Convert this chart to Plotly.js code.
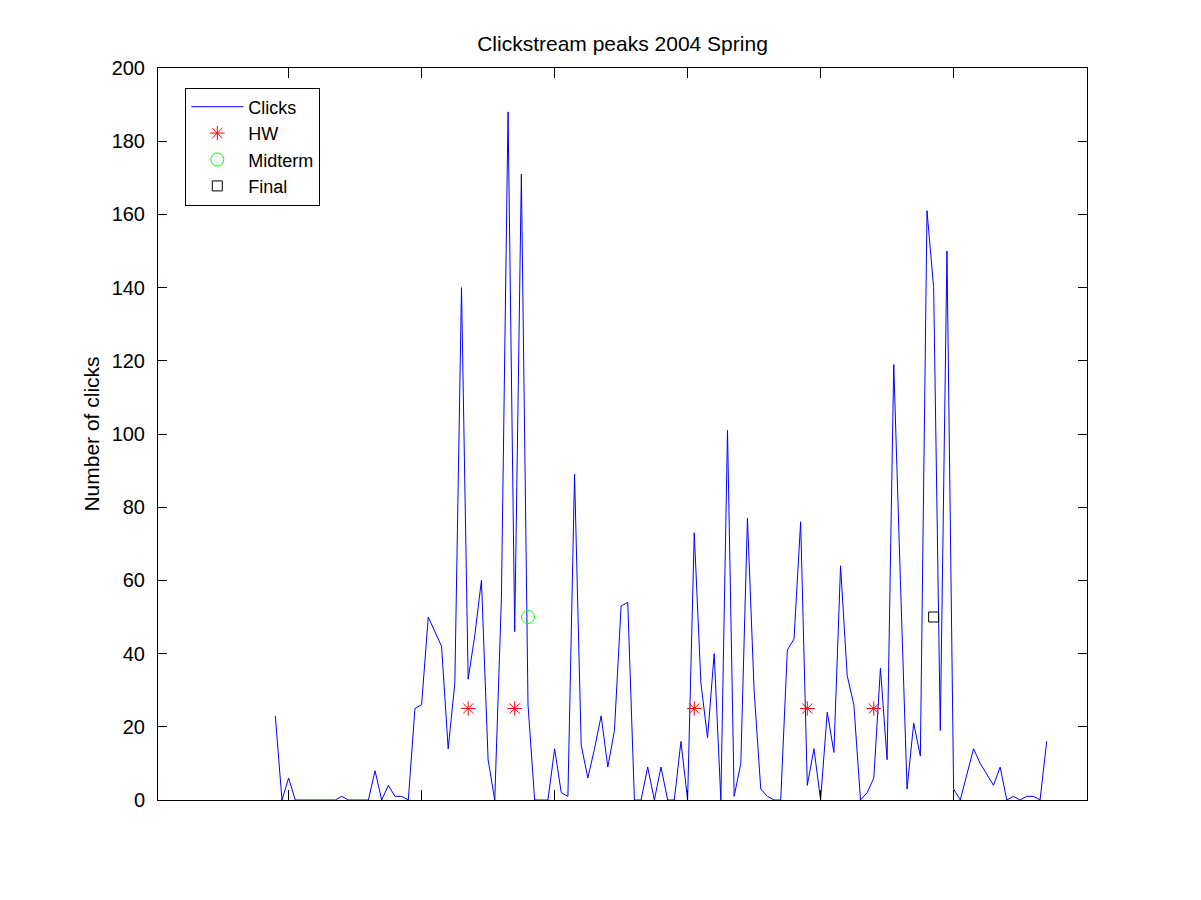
<!DOCTYPE html>
<html>
<head>
<meta charset="utf-8">
<script src="https://cdn.plot.ly/plotly-3.0.1.min.js"></script>
<style>
  html, body { margin: 0; padding: 0; background: #ffffff; }
  #chart { width: 1201px; height: 900px; }
</style>
</head>
<body>
<div id="chart"></div>
<script>
// ---- data ----
const firstDay = 18;
const clicks = [
  23, 0, 6, 0, 0, 0, 0, 0, 0, 0,
  1, 0, 0, 0, 0, 8, 0, 4, 1, 1,
  0, 25, 26, 50, 46, 42, 14, 32, 140, 33,
  45, 60, 11, 0, 55, 188, 46, 171, 26, 0,
  0, 0, 14, 2, 1, 89, 15, 6, 14, 23,
  9, 19, 53, 54, 0, 0, 9, 0, 9, 0,
  0, 16, 0, 73, 32, 17, 40, 0, 101, 1,
  10, 77, 30, 3, 1, 0, 0, 41, 44, 76,
  4, 14, 0, 24, 13, 64, 34, 26, 0, 2,
  6, 36, 11, 119, 60, 3, 21, 12, 161, 140,
  19, 150, 3, 0, 7, 14, 10, 7, 4, 9,
  0, 1, 0, 1, 1, 0, 16
];
const days = clicks.map((_, i) => firstDay + i);

const hwDays = [47, 54, 81, 98, 108];
const hwLevel = [25, 25, 25, 25, 25];
const midtermDays = [56];
const midtermLevel = [50];
const finalDays = [117];
const finalLevel = [50];

const xTicks = [20, 40, 60, 80, 100, 120, 140];
const yTicks = [0, 20, 40, 60, 80, 100, 120, 140, 160, 180, 200];

const titleText = 'Clickstream peaks 2004 Spring';
const yTitleText = 'Number of clicks';

// ---- chart ----
const FONT = 'Liberation Sans, Arial, Helvetica, sans-serif';

const traces = [
  {
    x: days, y: clicks, type: 'scatter', mode: 'lines', name: 'Clicks',
    line: { color: '#0000ff', width: 1 }
  },
  {
    x: hwDays, y: hwLevel, type: 'scatter', mode: 'markers', name: 'HW',
    marker: { symbol: 'asterisk-open', size: 12, color: '#ff0000', line: { color: '#ff0000', width: 1 } }
  },
  {
    x: midtermDays, y: midtermLevel, type: 'scatter', mode: 'markers', name: 'Midterm',
    marker: { symbol: 'circle-open', size: 13, color: '#00ff00', line: { color: '#00ff00', width: 1 } }
  },
  {
    x: finalDays, y: finalLevel, type: 'scatter', mode: 'markers', name: 'Final',
    marker: { symbol: 'square-open', size: 10, color: '#000000', line: { color: '#000000', width: 1 } }
  }
];

const layout = {
  width: 1201, height: 900,
  paper_bgcolor: '#ffffff', plot_bgcolor: '#ffffff',
  margin: { l: 158, r: 114, t: 68, b: 100, pad: 0 },
  font: { family: FONT, size: 20, color: '#000000' },
  title: {
    text: titleText,
    font: { family: FONT, size: 21, color: '#000000' },
    x: 0.5, xref: 'paper', xanchor: 'center',
    y: 1 - 44 / 900, yref: 'container', yanchor: 'middle'
  },
  showlegend: true,
  legend: {
    x: (185.3 - 158) / 929, y: (800.5 - 88) / 732,
    xanchor: 'left', yanchor: 'top',
    bgcolor: '#ffffff', bordercolor: '#000000', borderwidth: 1,
    font: { family: FONT, size: 18, color: '#000000' },
    itemwidth: 52, tracegroupgap: 0,
    entrywidth: 117, entrywidthmode: 'pixels'
  },
  xaxis: {
    range: [0.36, 140.06],
    tickmode: 'array', tickvals: xTicks, showticklabels: false,
    ticks: 'inside', ticklen: 10, tickwidth: 1, tickcolor: '#000000',
    showline: true, linecolor: '#000000', linewidth: 1, mirror: 'allticks',
    showgrid: false, zeroline: false
  },
  yaxis: {
    range: [0, 200],
    tickmode: 'array', tickvals: yTicks, ticktext: yTicks.map(String),
    ticks: 'inside', ticklen: 9, tickwidth: 1, tickcolor: '#000000',
    tickfont: { family: FONT, size: 20, color: '#000000' },
    ticklabelstandoff: 8,
    showline: true, linecolor: '#000000', linewidth: 1, mirror: 'allticks',
    showgrid: false, zeroline: false,
    title: { text: yTitleText, font: { family: FONT, size: 21, color: '#000000' }, standoff: 6 }
  }
};

Plotly.newPlot('chart', traces, layout, { displayModeBar: false, staticPlot: true });
</script>
</body>
</html>
